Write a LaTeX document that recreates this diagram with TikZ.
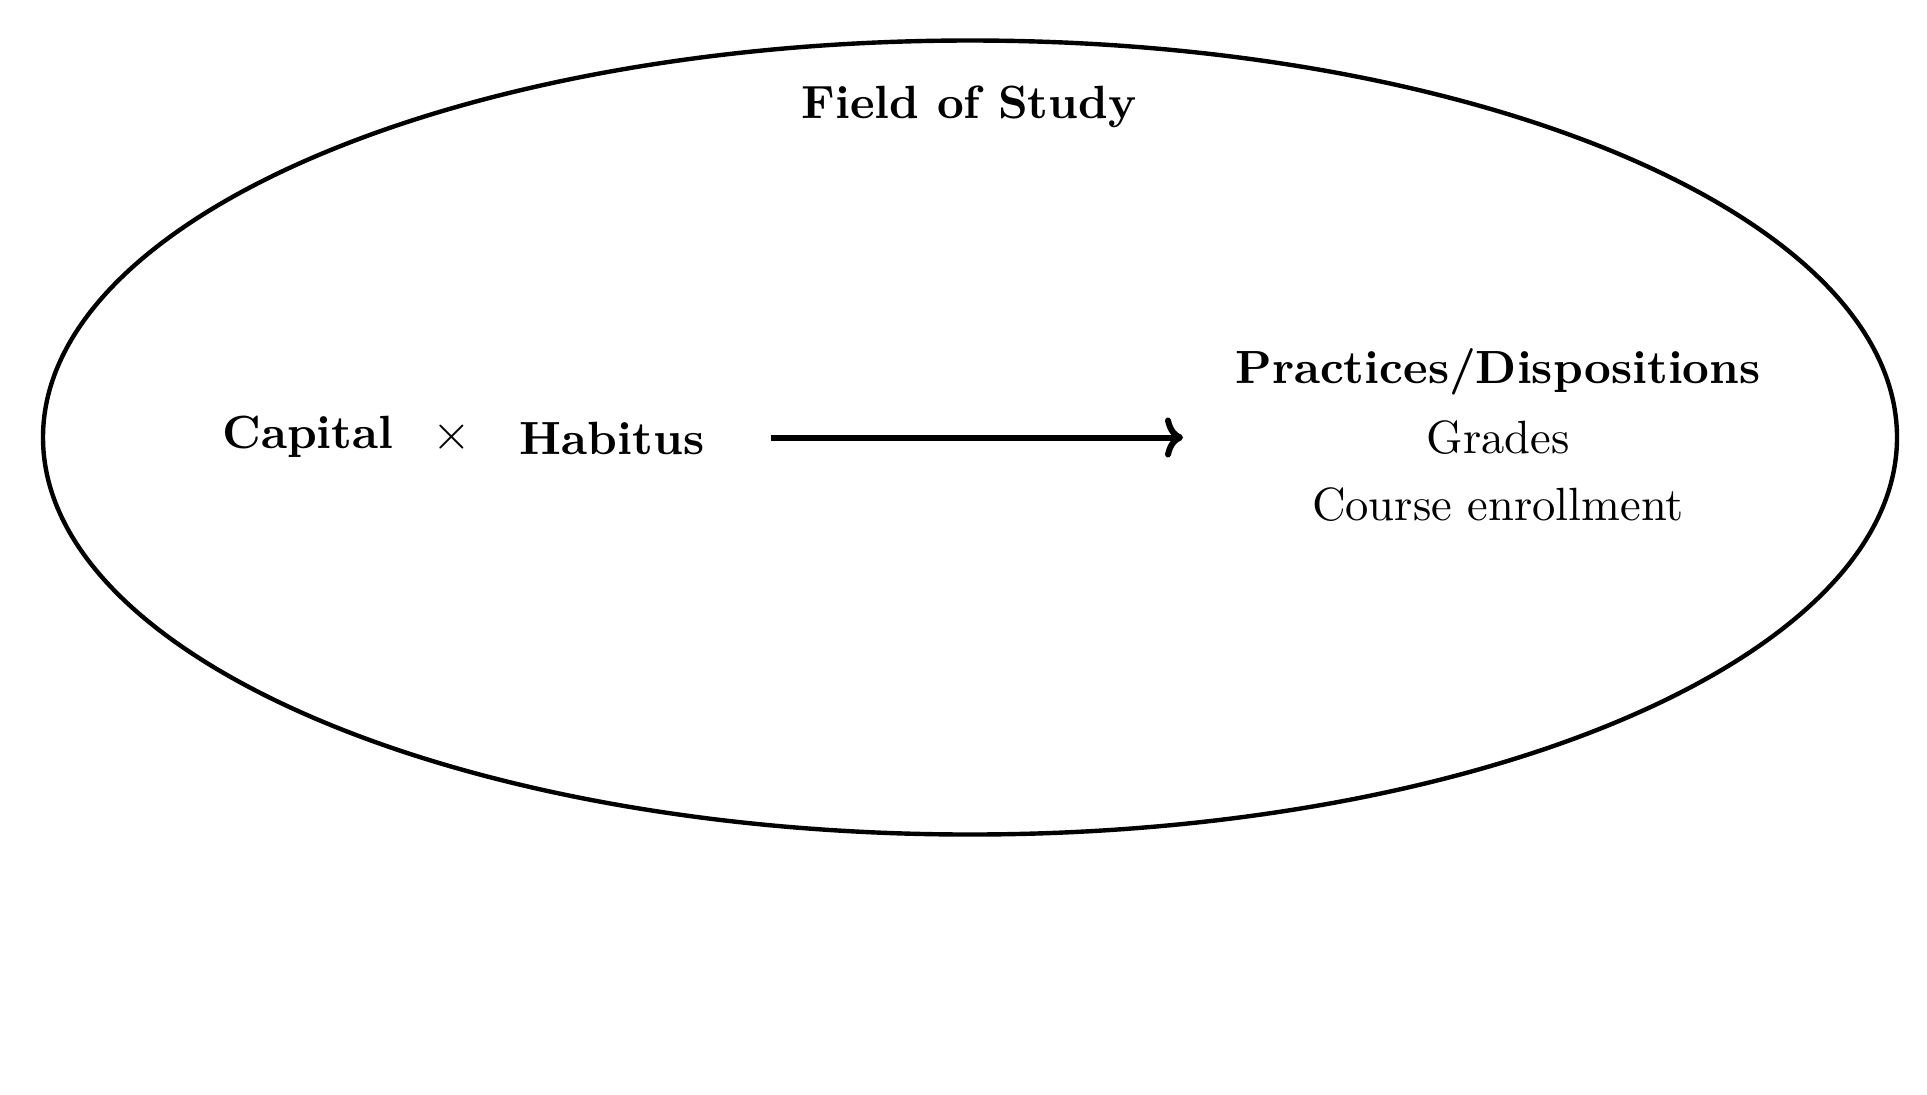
\documentclass[tikz,border=0pt]{standalone}
\usepackage{fontspec}
\setmainfont[BoldFont=lmroman10-bold.otf, ItalicFont=lmroman10-italic.otf]{lmroman10-regular.otf}
\usetikzlibrary{shapes.geometric,arrows.meta}
\tikzset{
  lbl/.style={inner sep=0pt, font=\fontsize{23.3}{28}\selectfont},
  blbl/.style={lbl, font=\fontsize{23.3}{28}\selectfont\bfseries},
  fieldshape/.style={draw, ellipse, line width=2.2pt, inner sep=0pt, minimum width=927pt, minimum height=397pt},
  mainarrow/.style={-{To[length=9pt,width=20pt]}, line width=3pt}
}
\begin{document}
\begin{tikzpicture}[x=0.5pt, y=-0.5pt]
\useasboundingbox (0,0) rectangle (1927,1094);
\node[fieldshape] (field) at (970,437.5) {};
\node[blbl, anchor=base] (title) at (969,118) {Field of Study};
\node[blbl, anchor=base] (capital) at (308,448) {Capital};
\node[lbl] (times) at (452,437) {$\times$};
\node[blbl, anchor=base] (habitus) at (612,454) {Habitus};
\node[blbl, anchor=base] (practices) at (1498,383) {Practices/Dispositions};
\node[lbl, anchor=base] (grades) at (1498,453) {Grades};
\node[lbl, anchor=base] (course) at (1498,520) {Course enrollment};
\coordinate (arrowstart) at (771,437.5);
\coordinate (arrowend) at (1183,437.5);
\draw[mainarrow] (arrowstart) -- (arrowend);
\end{tikzpicture}
\end{document}
